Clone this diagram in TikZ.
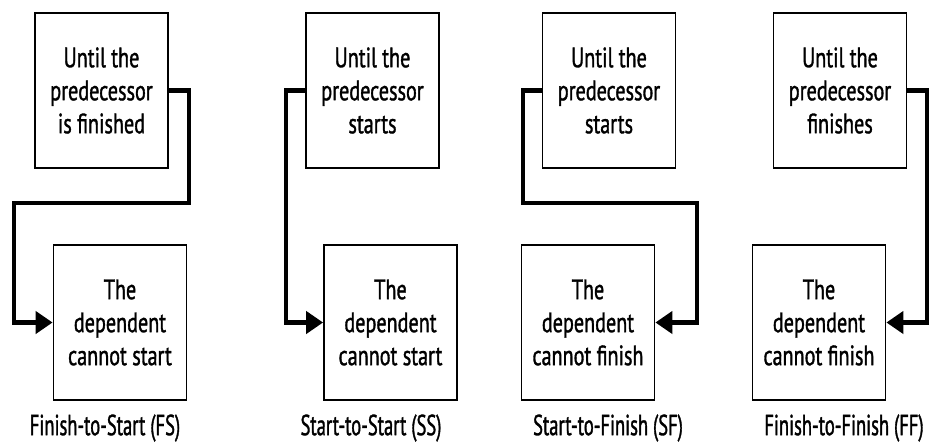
\documentclass[tikz,border=0pt]{standalone}
\usepackage{fontspec}
\setmainfont{PT Sans}[FakeStretch=0.72,FakeBold=1.2]
\newfontfamily\capfont{PT Sans}[FakeStretch=0.64,FakeBold=1.2]
\usetikzlibrary{arrows.meta}
\tikzset{
  box/.style={draw=black, line width=1.8pt, minimum width=133pt, minimum height=155pt,
    align=center, inner sep=0pt, font=\fontsize{28}{33}\selectfont},
  conn/.style={line width=4.6pt, line join=miter, -{Triangle[length=17pt,width=22pt]}},
  captext/.style={font=\capfont\fontsize{29}{30}\selectfont, inner sep=0pt}
}
\begin{document}
\begin{tikzpicture}[x=1pt,y=-1pt]
\useasboundingbox (0,0) rectangle (936,445);
% Panel 1: FS
\node[box] (p1) at (101.5,90.5) {Until the\\predecessor\\is finished};
\node[box] (d1) at (120,322.5) {The\\dependent\\cannot start};
\coordinate (a1) at (189,203);
\coordinate (b1) at (14,203);
\draw[conn] (p1.east) -| (a1) -- (b1) |- (d1.west);
\node[captext] (l1) at (105,428) {Finish-to-Start (FS)};
% Panel 2: SS
\node[box] (p2) at (372.5,90.5) {Until the\\predecessor\\starts};
\node[box] (d2) at (390.5,322.5) {The\\dependent\\cannot start};
\coordinate (k2) at (286,322.5);
\draw[conn] (p2.west) -| (k2) -- (d2.west);
\node[captext] (l2) at (371,428) {Start-to-Start (SS)};
% Panel 3: SF
\node[box] (p3) at (609,90.5) {Until the\\predecessor\\starts};
\node[box] (d3) at (588,322.5) {The\\dependent\\cannot finish};
\coordinate (a3) at (523,203);
\coordinate (b3) at (697,203);
\draw[conn] (p3.west) -| (a3) -- (b3) |- (d3.east);
\node[captext] (l3) at (608,428) {Start-to-Finish (SF)};
% Panel 4: FF
\node[box] (p4) at (840,90.5) {Until the\\predecessor\\finishes};
\node[box] (d4) at (819,322.5) {The\\dependent\\cannot finish};
\coordinate (k4) at (927,322.5);
\draw[conn] (p4.east) -| (k4) -- (d4.east);
\node[captext] (l4) at (844,428) {Finish-to-Finish (FF)};
\end{tikzpicture}
\end{document}
